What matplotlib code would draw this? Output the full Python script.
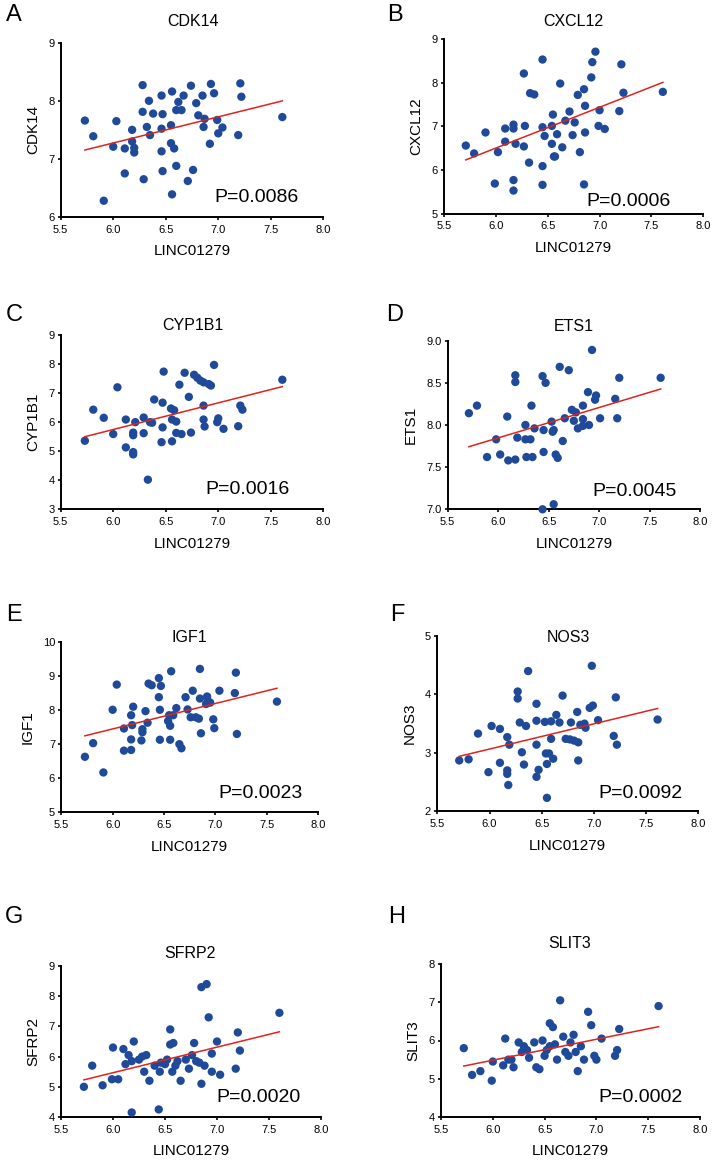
import numpy as np
import matplotlib
matplotlib.use('Agg')
import matplotlib.pyplot as plt
from matplotlib.ticker import FormatStrFormatter

plt.rcParams['font.family'] = ['Liberation Sans', 'DejaVu Sans']

# --- 数据 ---
cdk14_x = [5.73, 5.81, 5.91, 6.00, 6.03, 6.11, 6.11, 6.18, 6.18, 6.20, 6.20, 6.28, 6.28, 6.29, 6.32,
           6.34, 6.35, 6.38, 6.46, 6.47, 6.46, 6.46, 6.47, 6.55, 6.56, 6.55, 6.58, 6.56, 6.60, 6.60,
           6.62, 6.65, 6.67, 6.71, 6.74, 6.76, 6.79, 6.81, 6.85, 6.86, 6.87, 6.92, 6.93, 6.96, 6.99,
           7.00, 7.04, 7.19, 7.21, 7.22, 7.61]
cdk14_y = [7.66, 7.39, 6.28, 7.21, 7.65, 7.18, 6.75, 7.50, 7.30, 7.19, 7.11, 8.27, 7.81, 6.65, 7.55,
           8.00, 7.41, 7.78, 8.09, 7.77, 7.52, 7.13, 6.79, 7.58, 8.16, 7.27, 7.18, 6.39, 6.88, 7.84,
           7.98, 7.84, 8.09, 6.62, 8.26, 6.81, 7.96, 7.75, 8.09, 7.55, 7.69, 7.26, 8.29, 8.13, 7.67,
           7.44, 7.54, 7.41, 8.30, 8.07, 7.72]

cxcl12_x = [5.71, 5.79, 5.90, 5.99, 6.02, 6.09, 6.09, 6.17, 6.17, 6.17, 6.17, 6.19, 6.27, 6.28, 6.27,
            6.32, 6.33, 6.37, 6.45, 6.45, 6.45, 6.45, 6.47, 6.54, 6.55, 6.54, 6.56, 6.57, 6.59, 6.62,
            6.64, 6.67, 6.71, 6.74, 6.76, 6.79, 6.81, 6.85, 6.86, 6.86, 6.85, 6.92, 6.93, 6.96, 7.00,
            6.99, 7.05, 7.19, 7.21, 7.23, 7.61]
cxcl12_y = [6.56, 6.38, 6.86, 5.69, 6.41, 6.95, 6.65, 7.04, 6.95, 5.77, 5.53, 6.60, 8.21, 7.01, 6.54,
            6.17, 7.76, 7.73, 8.53, 6.98, 6.09, 5.66, 6.78, 7.01, 7.27, 6.60, 6.31, 6.31, 6.82, 7.98,
            6.52, 7.13, 7.34, 6.80, 7.09, 7.72, 6.41, 7.85, 7.47, 6.86, 5.67, 8.12, 8.47, 8.71, 7.37,
            7.01, 6.94, 7.35, 8.42, 7.77, 7.79]

cyp1b1_x = [5.73, 5.81, 5.91, 6.00, 6.04, 6.12, 6.12, 6.19, 6.19, 6.19, 6.19, 6.21, 6.29, 6.29, 6.35,
            6.37, 6.39, 6.47, 6.47, 6.46, 6.48, 6.55, 6.58, 6.56, 6.56, 6.60, 6.60, 6.63, 6.65, 6.72,
            6.68, 6.74, 6.77, 6.80, 6.83, 6.86, 6.86, 6.86, 6.87, 6.91, 6.93, 6.96, 6.99, 7.00, 7.05,
            7.19, 7.21, 7.23, 7.61, 6.33]
cyp1b1_y = [5.36, 6.43, 6.15, 5.59, 7.20, 6.09, 5.13, 5.64, 5.55, 4.97, 4.89, 6.00, 6.16, 5.62, 6.00,
            5.98, 6.78, 6.67, 5.82, 5.31, 7.74, 6.47, 6.41, 6.09, 5.34, 6.02, 5.63, 7.29, 5.59, 6.87,
            7.70, 5.64, 7.63, 7.53, 7.43, 7.37, 6.57, 6.09, 5.85, 7.31, 7.26, 7.97, 6.00, 6.13, 5.77,
            5.86, 6.57, 6.43, 7.46, 4.02]

ets1_x = [5.71, 5.79, 5.89, 5.98, 6.02, 6.09, 6.10, 6.17, 6.17, 6.17, 6.19, 6.27, 6.28, 6.33, 6.27,
          6.32, 6.34, 6.36, 6.44, 6.47, 6.45, 6.45, 6.53, 6.54, 6.55, 6.57, 6.59, 6.61, 6.64, 6.66,
          6.70, 6.73, 6.75, 6.77, 6.79, 6.84, 6.84, 6.84, 6.89, 6.90, 6.93, 6.97, 6.96, 7.01, 7.16,
          7.18, 7.20, 7.61, 6.44, 6.55]
ets1_y = [8.14, 8.23, 7.62, 7.83, 7.65, 8.10, 7.58, 8.59, 8.51, 7.59, 7.85, 8.00, 7.62, 8.23, 7.83,
          7.83, 7.62, 7.96, 8.58, 8.50, 7.68, 7.94, 8.04, 7.92, 7.94, 7.65, 7.61, 8.69, 7.81, 8.08,
          8.65, 8.18, 8.05, 8.15, 7.96, 8.23, 8.07, 7.99, 8.39, 8.00, 8.89, 8.35, 8.30, 8.08, 8.31,
          8.08, 8.56, 8.56, 7.00, 7.06]

igf1_x = [6.04, 6.35, 6.38, 6.45, 6.47, 6.57, 6.85, 7.20, 6.45, 6.71, 6.78, 6.85, 6.92, 6.93, 6.95,
          7.04, 7.19, 7.60, 6.91, 5.73, 5.81, 5.91, 6.00, 6.11, 6.11, 6.20, 6.18, 6.19, 6.18, 6.18,
          6.28, 6.29, 6.29, 6.32, 6.34, 6.46, 6.46, 6.55, 6.54, 6.56, 6.56, 6.59, 6.62, 6.65, 6.67,
          6.73, 6.76, 6.81, 6.84, 6.86, 6.98, 6.99, 7.21]
igf1_y = [8.75, 8.78, 8.73, 8.94, 8.71, 9.14, 9.21, 9.10, 8.38, 8.38, 8.57, 8.34, 8.40, 8.26, 8.22,
          8.57, 8.50, 8.25, 8.18, 6.63, 7.03, 6.17, 8.01, 7.46, 6.81, 8.10, 7.85, 7.56, 7.14, 6.83,
          7.11, 7.35, 7.44, 7.97, 7.63, 8.01, 7.13, 7.85, 7.68, 7.54, 7.13, 7.85, 8.06, 7.00, 6.88,
          8.02, 7.79, 7.79, 7.75, 7.32, 7.73, 7.47, 7.30]

nos3_x = [6.37, 6.98, 6.27, 6.27, 6.45, 6.70, 7.21, 6.84, 6.96, 6.99, 6.64, 5.89, 6.02, 6.10, 6.17,
          6.19, 6.29, 6.35, 6.45, 6.53, 6.59, 6.67, 6.78, 6.87, 6.91, 6.92, 7.04, 7.19, 7.22, 7.61,
          6.59, 6.73, 6.77, 6.81, 6.85, 6.45, 6.31, 6.54, 6.57, 6.61, 5.71, 5.80, 5.99, 6.10, 6.17,
          6.17, 6.18, 6.33, 6.55, 6.47, 6.45, 6.85, 6.55]
nos3_y = [4.40, 4.49, 4.05, 3.93, 3.84, 3.98, 3.95, 3.70, 3.77, 3.81, 3.65, 3.33, 3.46, 3.41, 3.27,
          3.14, 3.52, 3.46, 3.55, 3.53, 3.54, 3.52, 3.52, 3.48, 3.50, 3.43, 3.56, 3.29, 3.14, 3.57,
          3.24, 3.24, 3.23, 3.21, 3.18, 3.14, 3.01, 2.99, 2.99, 2.90, 2.87, 2.89, 2.67, 2.83, 2.70,
          2.64, 2.45, 2.80, 2.81, 2.71, 2.59, 2.87, 2.23]

sfrp2_x = [5.72, 5.80, 5.90, 5.99, 6.00, 6.05, 6.10, 6.12, 6.15, 6.18, 6.20, 6.18, 6.25, 6.28, 6.30,
           6.32, 6.35, 6.40, 6.44, 6.45, 6.46, 6.50, 6.52, 6.55, 6.55, 6.58, 6.57, 6.60, 6.62, 6.65,
           6.70, 6.73, 6.76, 6.78, 6.80, 6.83, 6.85, 6.90, 6.92, 6.88, 6.95, 7.00, 7.03, 7.18, 7.20,
           7.22, 7.60, 6.85, 6.95]
sfrp2_y = [5.00, 5.70, 5.05, 5.25, 6.30, 5.25, 6.25, 5.75, 6.05, 5.85, 6.50, 4.15, 5.90, 6.00, 5.50,
           6.05, 5.20, 5.70, 4.25, 5.50, 5.80, 5.75, 5.90, 6.90, 6.40, 6.45, 5.50, 5.70, 5.85, 5.20,
           5.90, 5.60, 6.05, 6.45, 5.85, 5.80, 8.30, 8.40, 7.30, 5.70, 5.50, 6.50, 5.40, 5.60, 6.80,
           6.20, 7.45, 5.10, 6.10]

slit3_x = [5.72, 5.80, 5.88, 5.99, 6.00, 6.10, 6.12, 6.15, 6.18, 6.20, 6.25, 6.28, 6.30, 6.33, 6.35,
           6.40, 6.42, 6.45, 6.48, 6.50, 6.52, 6.55, 6.55, 6.58, 6.60, 6.62, 6.65, 6.68, 6.70, 6.73,
           6.75, 6.78, 6.80, 6.82, 6.85, 6.88, 6.92, 6.95, 6.98, 7.00, 7.05, 7.18, 7.20, 7.22, 7.60]
slit3_y = [5.80, 5.10, 5.20, 4.95, 5.45, 5.35, 6.05, 5.50, 5.50, 5.30, 5.95, 5.70, 5.85, 5.75, 5.55,
           5.95, 5.30, 5.25, 6.00, 5.60, 5.75, 5.85, 6.45, 6.35, 5.90, 5.50, 7.05, 6.10, 5.70, 5.60,
           5.95, 6.15, 5.70, 5.20, 5.85, 5.50, 6.75, 6.40, 5.60, 5.50, 6.05, 5.60, 5.75, 6.30, 6.90]

letters = ['A', 'B', 'C', 'D', 'E', 'F', 'G', 'H']
genes = ['CDK14', 'CXCL12', 'CYP1B1', 'ETS1', 'IGF1', 'NOS3', 'SFRP2', 'SLIT3']
p_values = ['P=0.0086', 'P=0.0006', 'P=0.0016', 'P=0.0045', 'P=0.0023', 'P=0.0092', 'P=0.0020', 'P=0.0002']
xs = [cdk14_x, cxcl12_x, cyp1b1_x, ets1_x, igf1_x, nos3_x, sfrp2_x, slit3_x]
ys = [cdk14_y, cxcl12_y, cyp1b1_y, ets1_y, igf1_y, nos3_y, sfrp2_y, slit3_y]
y_ranges = [(6, 9), (5, 9), (3, 9), (7, 9), (5, 10), (2, 5), (4, 9), (4, 8)]
y_steps = [1, 1, 1, 0.5, 1, 1, 1, 1]
x_ticks = [5.5, 6.0, 6.5, 7.0, 7.5, 8.0]

# --- 版面 (像素: 左, 上, 右, 下) ---
W, H = 718, 1162
axes_px = [(60.7, 42.7, 323.3, 217), (444, 39, 703.3, 213.7),
           (60.7, 335, 323.3, 509.3), (447.7, 340.7, 700, 509.3),
           (61.3, 642, 318, 812.3), (437.3, 636, 698.3, 811.3),
           (61, 966, 321, 1117), (441, 964, 700, 1117)]
title_px = [(193, 21), (573, 22), (193, 325), (574, 326), (189, 637), (568, 637), (190, 954), (570, 944)]
letter_px = [(14, 15), (395, 15), (14, 315), (395, 315), (14, 615), (397, 615), (14, 917), (397, 917)]
p_px = [(257, 198), (628, 201), (247, 490), (635, 492), (260, 793), (640, 794), (258, 1098), (640, 1098)]

DOT = '#1f4a9a'
LINE = '#e0231c'

fig = plt.figure(figsize=(W / 100, H / 100), dpi=100)

for i in range(8):
    l, t, r, b = axes_px[i]
    ax = fig.add_axes([l / W, 1 - b / H, (r - l) / W, (b - t) / H])
    x = np.array(xs[i])
    y = np.array(ys[i])
    ax.scatter(x, y, s=36, c=DOT, edgecolors='none', zorder=3, clip_on=False)

    # 线性回归
    k, c0 = np.polyfit(x, y, 1)
    xx = np.array([x.min(), x.max()])
    ax.plot(xx, k * xx + c0, color=LINE, linewidth=1.1, zorder=4)

    y0, y1 = y_ranges[i]
    ax.set_xlim(5.5, 8.0)
    ax.set_ylim(y0, y1)
    ax.set_xticks(x_ticks)
    ax.set_yticks(np.arange(y0, y1 + 1e-6, y_steps[i]))
    ax.xaxis.set_major_formatter(FormatStrFormatter('%.1f'))
    if y_steps[i] < 1:
        ax.yaxis.set_major_formatter(FormatStrFormatter('%.1f'))
    else:
        ax.yaxis.set_major_formatter(FormatStrFormatter('%d'))

    for s in ['top', 'right']:
        ax.spines[s].set_visible(False)
    for s in ['left', 'bottom']:
        ax.spines[s].set_linewidth(1.4)
    ax.tick_params(direction='out', length=2.5, width=1.2, labelsize=8)
    ax.tick_params(axis='x', pad=3)
    ax.tick_params(axis='y', pad=2)
    ax.set_ylabel(genes[i], fontsize=11, labelpad=6)
    ax.set_xlabel('LINC01279', fontsize=11, labelpad=7)
    ax.patch.set_alpha(0)

    tx, ty = title_px[i]
    fig.text(tx / W, 1 - ty / H, genes[i], fontsize=11.5, ha='center', va='center')
    lx, ly = letter_px[i]
    fig.text(lx / W, 1 - ly / H, letters[i], fontsize=17, ha='center', va='center')
    px, py = p_px[i]
    fig.text(px / W, 1 - py / H, p_values[i], fontsize=14, ha='center', va='center')

fig.savefig('out.png', dpi=100)
